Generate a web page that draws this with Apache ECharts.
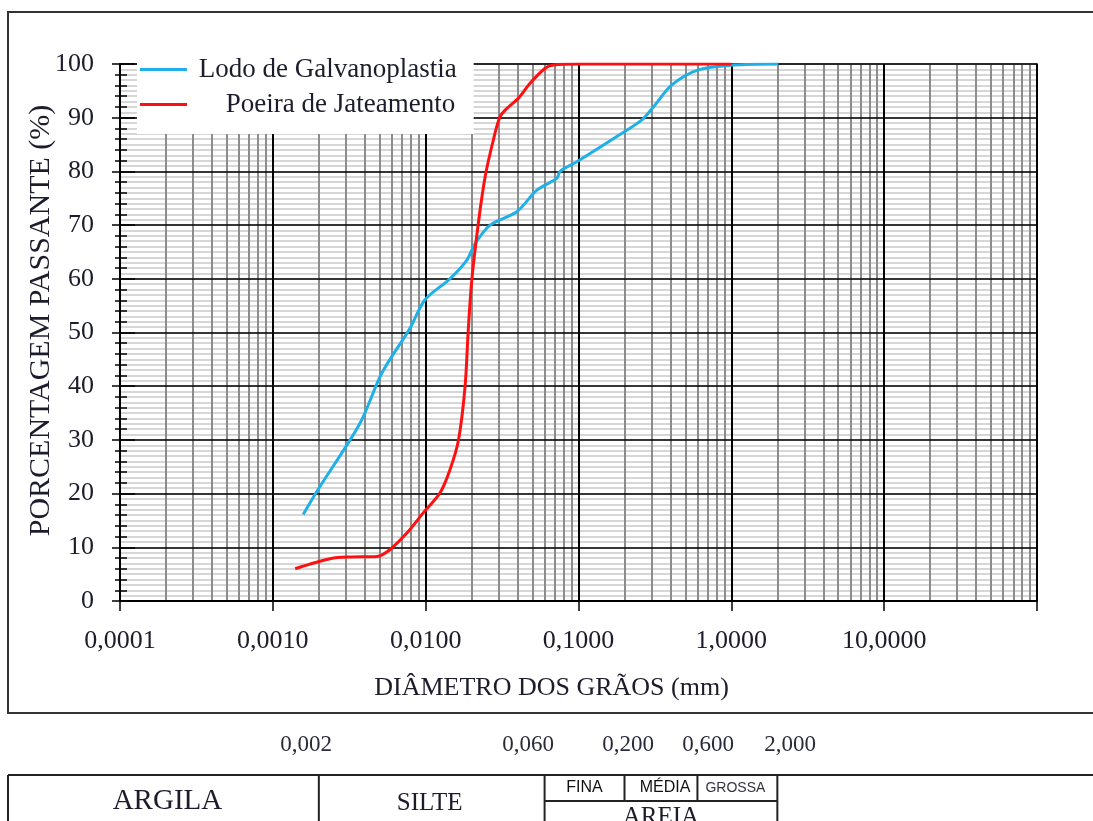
<!DOCTYPE html>
<html>
<head>
<meta charset="utf-8">
<title>Curva granulométrica</title>
<script src="https://cdn.jsdelivr.net/npm/echarts@6/dist/echarts.min.js"></script>
<style>
  html, body { margin: 0; padding: 0; background: #fff; }
  #chart { width: 1093px; height: 821px; }
</style>
</head>
<body>
<div id="chart"></div>
<script>
// diâmetro dos grãos (mm) x porcentagem passante (%)
const lodoDiametro = [0.00158, 0.00194, 0.00372, 0.00516, 0.0079, 0.0099, 0.0144, 0.0186, 0.0211, 0.0264,
  0.0395, 0.0534, 0.0721, 0.0758, 0.0975, 0.178, 0.260, 0.309, 0.408, 0.609, 1.03, 2.03];
const lodoPassante = [16.1, 20.4, 33.1, 42.4, 50.8, 56.1, 60.0, 63.5, 66.6, 70.0,
  72.5, 76.5, 78.7, 80.0, 81.8, 86.5, 89.6, 92.0, 96.1, 98.9, 99.8, 100];

const poeiraDiametro = [0.0014, 0.0024, 0.0032, 0.0048, 0.0058, 0.0075, 0.0097, 0.0124, 0.0144, 0.0164,
  0.0181, 0.0190, 0.0200, 0.0221, 0.0245, 0.0277, 0.0307, 0.0348, 0.0404, 0.0482, 0.0605, 0.0685, 0.1, 1.0];
const poeiraPassante = [6.0, 7.9, 8.2, 8.3, 9.5, 12.6, 16.5, 20.1, 24.4, 30.0,
  39.9, 50.5, 59.5, 70.3, 79.0, 85.8, 90.2, 92.0, 93.6, 96.4, 99.2, 99.8, 100, 100];

const xTickLabels = ['0,0001', '0,0010', '0,0100', '0,1000', '1,0000', '10,0000', ''];

// limites das frações (ABNT)
const limitesValor = [0.002, 0.06, 0.2, 0.6, 2.0];
const limitesTexto = ['0,002', '0,060', '0,200', '0,600', '2,000'];
const fracoes = ['ARGILA', 'SILTE', 'FINA', 'MÉDIA', 'GROSSA', 'AREIA'];

const serif = 'Liberation Serif';
const txtColor = '#1c1c2c';

// linhas secundárias do papel log (2..9 de cada década)
const minorX = [];
for (let e = -4; e <= 1; e++) {
  for (let k = 2; k <= 9; k++) {
    minorX.push({ xAxis: Number((k * Math.pow(10, e)).toPrecision(3)) });
  }
}

const chart = echarts.init(document.getElementById('chart'));

const option = {
  backgroundColor: '#fff',
  animation: false,
  grid: {
    left: 120, top: 64, right: 56, bottom: 220,
    show: true, borderColor: '#000', borderWidth: 1.5, backgroundColor: '#fff'
  },
  legend: {
    orient: 'vertical',
    left: 137, top: 50,
    z: 10,
    padding: [6, 17, 16, 3],
    backgroundColor: '#fff',
    itemWidth: 47, itemHeight: 3, itemGap: 8,
    icon: 'rect',
    selectedMode: false,
    formatter: function (name) {
      return name === 'Poeira de Jateamento' ? '     ' + name : ' ' + name;
    },
    textStyle: { fontFamily: serif, fontSize: 27, lineHeight: 24, color: txtColor },
    data: ['Lodo de Galvanoplastia', 'Poeira de Jateamento']
  },
  xAxis: {
    type: 'log',
    logBase: 10,
    min: 0.0001,
    max: 100,
    z: 2,
    name: 'DIÂMETRO DOS GRÃOS (mm)',
    nameLocation: 'middle',
    nameGap: 74,
    nameTextStyle: { fontFamily: serif, fontSize: 26, color: txtColor, padding: [0, 54, 0, 0] },
    axisLine: { show: true, lineStyle: { color: '#000', width: 2 } },
    axisTick: { show: true, length: 10, lineStyle: { color: '#000', width: 1.5 } },
    axisLabel: {
      margin: 27,
      fontFamily: serif, fontSize: 26, color: txtColor,
      formatter: function (v, i) { return xTickLabels[i] !== undefined ? xTickLabels[i] : ''; }
    },
    splitLine: { show: true, lineStyle: { color: '#000', width: 2 } }
  },
  yAxis: [
    {
      type: 'value', min: 0, max: 100, interval: 10, position: 'left', z: 2,
      name: 'PORCENTAGEM PASSANTE (%)',
      nameLocation: 'middle',
      nameGap: 64,
      nameMoveOverlap: false,
      nameTextStyle: { fontFamily: serif, fontSize: 30, color: txtColor, padding: [0, 0, 0, 24] },
      axisLine: { show: true, lineStyle: { color: '#000', width: 2 } },
      axisTick: { show: true, length: 8, lineStyle: { color: '#000', width: 1.5 } },
      minorTick: { show: true, splitNumber: 5, length: 5, lineStyle: { color: '#000', width: 1.5 } },
      axisLabel: { margin: 26, fontFamily: serif, fontSize: 26, color: txtColor },
      splitLine: { show: true, lineStyle: { color: '#000', width: 1.5 } }
    },
    {
      // marcas voltadas para dentro
      type: 'value', min: 0, max: 100, interval: 10, position: 'left', z: 2,
      axisLine: { show: false },
      axisTick: { show: true, inside: true, length: 15, lineStyle: { color: '#000', width: 1.5 } },
      minorTick: { show: true, splitNumber: 5, length: 7, lineStyle: { color: '#000', width: 1.5 } },
      axisLabel: { show: false },
      splitLine: { show: false }
    },
    {
      // linhas horizontais claras a cada 1 %
      type: 'value', min: 0, max: 100, interval: 1, position: 'left', z: 0,
      axisLine: { show: false },
      axisTick: { show: false },
      axisLabel: { show: false },
      splitLine: { show: true, lineStyle: { color: '#c9c9c9', width: 1.5 } }
    }
  ],
  series: [
    {
      name: 'grade',
      type: 'line',
      data: [],
      silent: true,
      markLine: {
        silent: true,
        z: 1,
        precision: 8,
        symbol: ['none', 'none'],
        label: { show: false },
        lineStyle: { color: '#8c8c8c', width: 2, type: 'solid' },
        emphasis: { disabled: true },
        data: minorX
      }
    },
    {
      name: 'Lodo de Galvanoplastia',
      type: 'line',
      z: 3,
      symbol: 'none',
      smooth: 0.3,
      color: '#1eb0e6',
      lineStyle: { width: 3, color: '#1eb0e6' },
      data: lodoDiametro.map((d, i) => [d, lodoPassante[i]])
    },
    {
      name: 'Poeira de Jateamento',
      type: 'line',
      z: 3,
      symbol: 'none',
      smooth: 0.3,
      color: '#ff1010',
      lineStyle: { width: 3, color: '#ff1010' },
      data: poeiraDiametro.map((d, i) => [d, poeiraPassante[i]])
    }
  ]
};

chart.setOption(option);

// moldura, limites e tabela das frações
const px = v => chart.convertToPixel({ xAxisIndex: 0 }, v);
const b = limitesValor.map(px);
const tTop = 775, tMid = 801, tBot = 840, tLeft = 8;
const ln = (x1, y1, x2, y2) => ({
  type: 'line', silent: true,
  shape: { x1, y1, x2, y2 },
  style: { stroke: '#222', lineWidth: 2 }
});
const txt = (text, x, y, font, size, fill) => ({
  type: 'text', silent: true, x, y,
  style: { text, fontFamily: font, fontSize: size, fill: fill || txtColor, align: 'center', verticalAlign: 'middle' }
});
const labelX = [306, 528, 628, 708, 790];

const g = [
  { type: 'rect', silent: true, shape: { x: 8, y: 12, width: 1200, height: 701 },
    style: { fill: 'none', stroke: '#333', lineWidth: 2 } },
  ln(tLeft, tTop, 1100, tTop),
  ln(tLeft, tTop, tLeft, tBot),
  ln(b[0], tTop, b[0], tBot),
  ln(b[1], tTop, b[1], tBot),
  ln(b[2], tTop, b[2], tMid),
  ln(b[3], tTop, b[3], tMid),
  ln(b[4], tTop, b[4], tBot),
  ln(b[1], tMid, b[4], tMid),
  txt(fracoes[0], (tLeft + b[0]) / 2 + 4, 801, serif, 29),
  txt(fracoes[1], (b[0] + b[1]) / 2 - 2, 803, serif, 25),
  txt(fracoes[2], (b[1] + b[2]) / 2, 788, 'Liberation Sans', 16, '#111'),
  txt(fracoes[3], (b[2] + b[3]) / 2 + 4, 788, 'Liberation Sans', 16, '#111'),
  txt(fracoes[4], (b[3] + b[4]) / 2 - 2, 788, 'Liberation Sans', 14, '#334'),
  txt(fracoes[5], (b[1] + b[4]) / 2, 817, serif, 25)
];
limitesTexto.forEach((t, i) => g.push(txt(t, labelX[i], 745, serif, 23, '#2a2a3a')));

chart.setOption({ graphic: g });
</script>
</body>
</html>
